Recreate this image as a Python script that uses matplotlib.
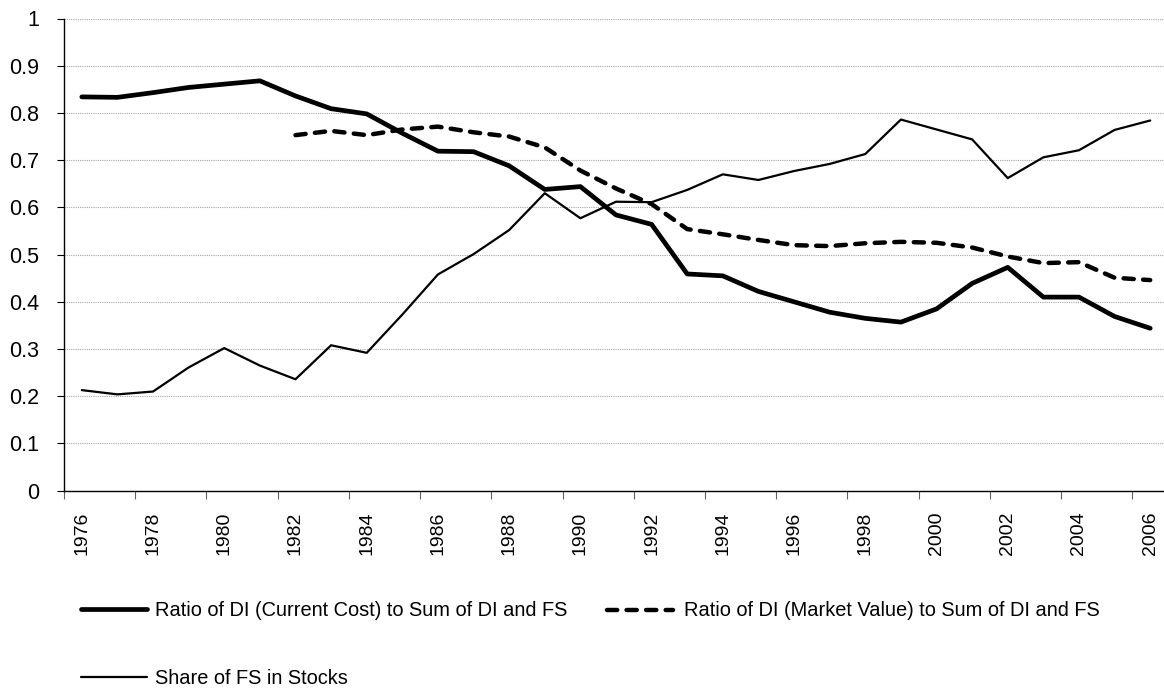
import matplotlib
matplotlib.use("Agg")
import matplotlib.pyplot as plt
from matplotlib import font_manager
from matplotlib.ticker import FixedLocator, NullFormatter

# Data
years = list(range(1976, 2007))

di_current_cost = [0.834, 0.833, 0.843, 0.854, 0.861, 0.868, 0.836, 0.809, 0.798, 0.757,
                   0.719, 0.718, 0.688, 0.638, 0.644, 0.584, 0.564, 0.459, 0.455, 0.422,
                   0.400, 0.378, 0.365, 0.357, 0.385, 0.439, 0.473, 0.410, 0.410, 0.369,
                   0.344]

# market value series starts in 1982
di_market_value = [None] * 6 + [0.753, 0.762, 0.753, 0.765, 0.771, 0.759, 0.750, 0.727,
                                0.678, 0.640, 0.607, 0.554, 0.543, 0.531, 0.520, 0.518,
                                0.524, 0.527, 0.525, 0.515, 0.496, 0.482, 0.484, 0.451,
                                0.446]

fs_share_stocks = [0.213, 0.204, 0.210, 0.261, 0.302, 0.265, 0.236, 0.308, 0.292, 0.373,
                   0.458, 0.501, 0.552, 0.630, 0.577, 0.612, 0.611, 0.637, 0.670, 0.658,
                   0.677, 0.692, 0.713, 0.786, 0.765, 0.744, 0.662, 0.706, 0.721, 0.764,
                   0.784]

labels = [
    "Ratio of DI (Current Cost) to Sum of DI and FS",
    "Ratio of DI (Market Value) to Sum of DI and FS",
    "Share of FS in Stocks",
]

# Font: narrow sans if present
names = {f.name for f in font_manager.fontManager.ttflist}
if "Liberation Sans Narrow" in names:
    FONT, XTICK_SIZE, YTICK_SIZE, LEG_SIZE = "Liberation Sans Narrow", 17, 17, 16
else:
    FONT, XTICK_SIZE, YTICK_SIZE, LEG_SIZE = "Liberation Sans", 14, 15.5, 14.4
plt.rcParams["font.family"] = [FONT, "DejaVu Sans"]

W, H = 1164, 691
fig = plt.figure(figsize=(W / 100, H / 100), dpi=100)
ax = fig.add_axes([64 / W, 1 - 490.7 / H, 1104 / W, (490.7 - 18.5) / H])

x = list(range(len(years)))
mv_x = [i for i, v in zip(x, di_market_value) if v is not None]
mv_y = [v for v in di_market_value if v is not None]

l1, = ax.plot(x, di_current_cost, color="black", lw=3.4,
              solid_capstyle="round", solid_joinstyle="round")
l2, = ax.plot(mv_x, mv_y, color="black", lw=3.2, dashes=(2.3, 2.1),
              dash_capstyle="round", dash_joinstyle="round")
l3, = ax.plot(x, fs_share_stocks, color="black", lw=1.6,
              solid_capstyle="round", solid_joinstyle="round")

ax.set_xlim(-0.5, len(years) - 0.5)
ax.set_ylim(0, 1)

# y axis
ax.set_yticks([i / 10 for i in range(11)])
ax.set_yticklabels(["0"] + [f"{i / 10:.1f}" for i in range(1, 10)] + ["1"])
ax.tick_params(axis="y", direction="out", length=5, width=0.8, pad=13,
               labelsize=YTICK_SIZE, colors="black")
ax.yaxis.grid(True, color="#a6a6a6", linestyle=(0, (1, 1)), lw=0.8)
ax.set_axisbelow(True)

# x axis: labels at every other year, tick marks at category boundaries
ax.set_xticks(x[::2])
ax.set_xticklabels([str(y) for y in years[::2]], rotation=90)
ax.tick_params(axis="x", which="major", length=0, pad=15, labelsize=XTICK_SIZE)
ax.xaxis.set_minor_locator(FixedLocator([i - 0.5 for i in x[::2]]))
ax.xaxis.set_minor_formatter(NullFormatter())
ax.tick_params(axis="x", which="minor", direction="out", length=6, width=0.8,
               color="#606060")

for side in ("top", "right"):
    ax.spines[side].set_visible(False)
for side in ("left", "bottom"):
    ax.spines[side].set_linewidth(1.0)
    ax.spines[side].set_color("black")

leg_kw = dict(frameon=False, fontsize=LEG_SIZE, handlelength=3.3,
              borderpad=0, borderaxespad=0, loc="center left")
fig.legend([l1, l3], [labels[0], labels[2]], bbox_to_anchor=(81 / W, 1 - 644 / H),
           labelspacing=2.45, handletextpad=0.4, **leg_kw)
fig.legend([l2], [labels[1]], bbox_to_anchor=(607 / W, 1 - 611 / H),
           handletextpad=0.55, **leg_kw)

fig.savefig("out.png", dpi=100)
